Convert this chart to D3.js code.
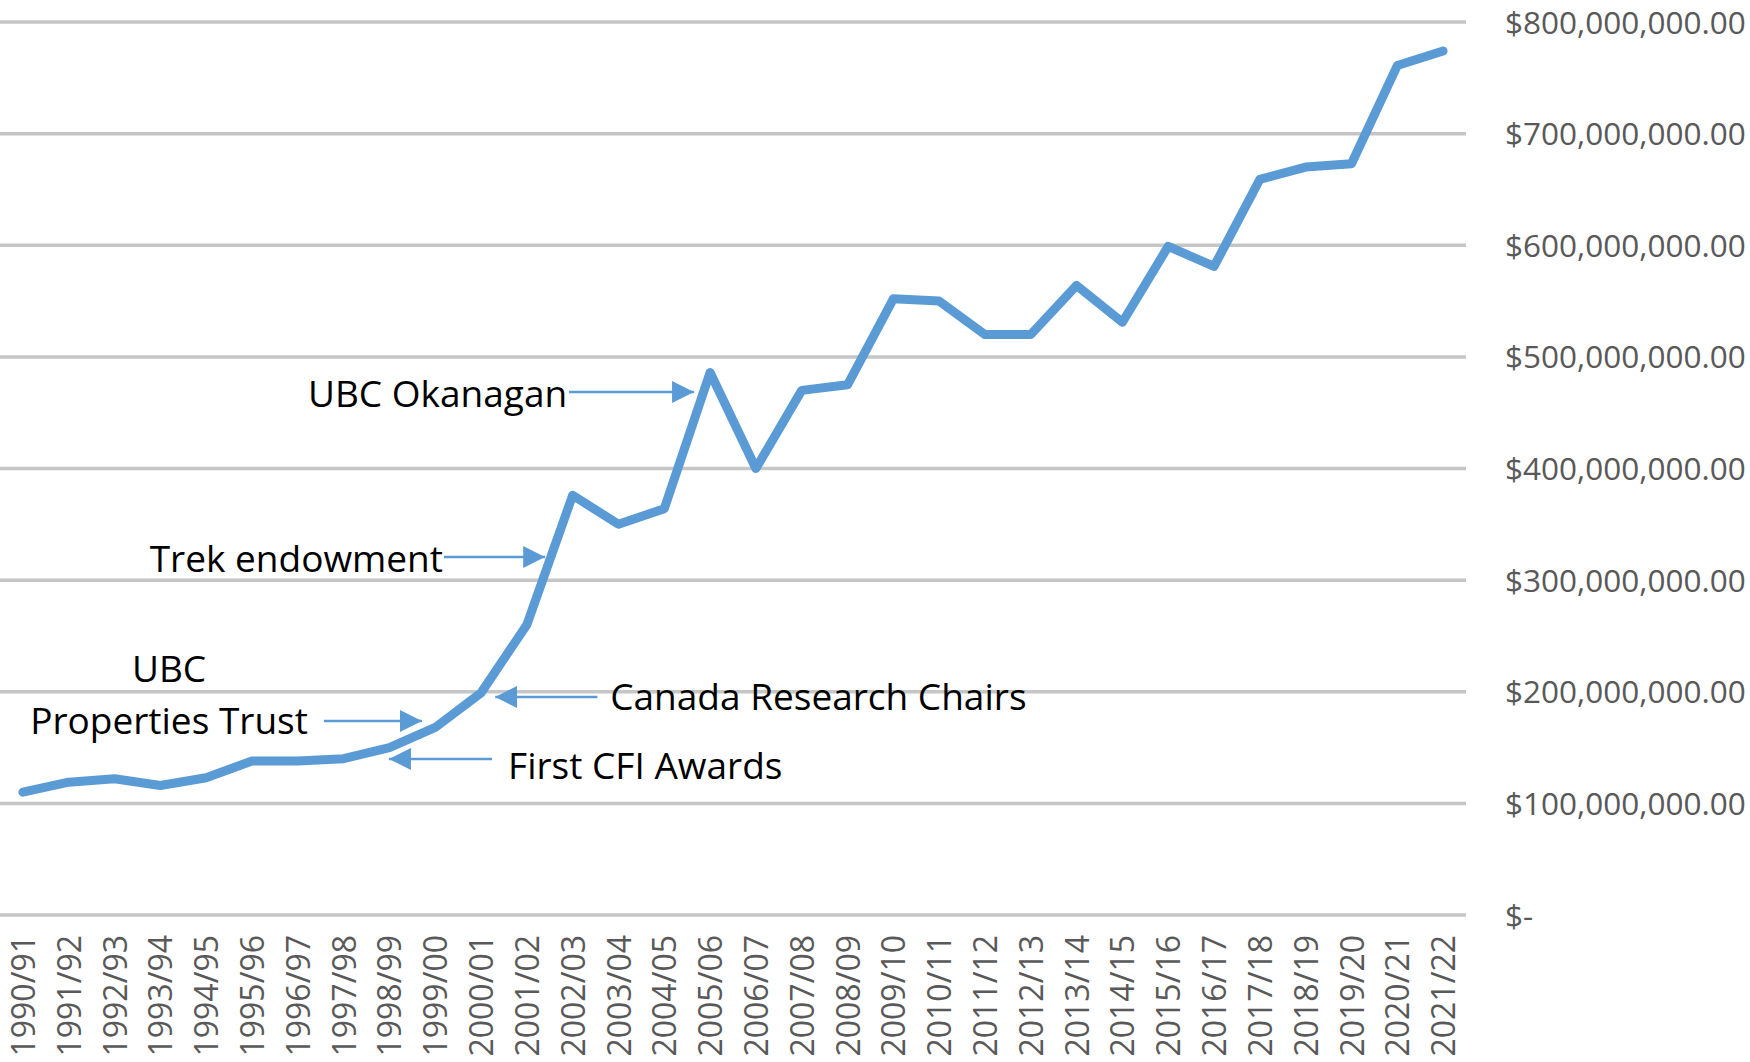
<!DOCTYPE html>
<html>
<head>
<meta charset="utf-8">
<script src="https://cdn.jsdelivr.net/npm/d3@7"></script>
<style>
  html, body { margin: 0; padding: 0; background: #fff; }
  svg { display: block; }
</style>
</head>
<body>
<svg id="chart" width="1750" height="1062"></svg>
<script>
// ---- data ----
const categories = ["1990/91","1991/92","1992/93","1993/94","1994/95","1995/96","1996/97","1997/98","1998/99","1999/00",
  "2000/01","2001/02","2002/03","2003/04","2004/05","2005/06","2006/07","2007/08","2008/09","2009/10",
  "2010/11","2011/12","2012/13","2013/14","2014/15","2015/16","2016/17","2017/18","2018/19","2019/20",
  "2020/21","2021/22"];
const values = [110e6,119e6,122e6,116e6,123e6,138e6,138e6,140e6,150e6,168e6,
  199e6,260e6,376e6,350e6,364e6,486e6,400e6,470e6,475e6,552e6,
  550e6,520e6,520e6,564e6,531e6,599e6,581e6,659e6,670e6,673e6,
  761e6,774e6];
const yTicks = [0,100e6,200e6,300e6,400e6,500e6,600e6,700e6,800e6];

// annotations: arrow tail/tip in category-index / value space, text anchor likewise
const annLabels = ["UBC Okanagan","Trek endowment","Properties Trust","Canada Research Chairs","First CFI Awards"];
const annTip    = [[14.65,468.5e6],[11.40,320.7e6],[8.71,173.8e6],[10.31,195.3e6],[7.99,139.8e6]];
const annTail   = [[11.92,468.5e6],[9.19,320.7e6],[6.57,173.8e6],[12.54,195.3e6],[10.24,139.8e6]];
const annText   = [[11.88,455.1e6,"end"],[9.17,307.3e6,"end"],[3.19,162.1e6,"middle"],[12.82,183.6e6,"start"],[10.59,121.8e6,"start"]];
const extraLabels = [["UBC",3.19,208.7e6,"middle"]];

// ---- layout ----
const plotLeft = 0, plotRight = 1466, plotTop = 22, plotBottom = 915;
const svg = d3.select("#chart");

const x = d3.scalePoint().domain(categories).range([plotLeft, plotRight]).padding(0.5);
const xi = d3.scaleLinear().domain([-0.5, categories.length - 0.5]).range([plotLeft, plotRight]);
const y = d3.scaleLinear().domain([0, 800e6]).range([plotBottom, plotTop]);

// gridlines
svg.append("g").selectAll("line").data(yTicks).join("line")
  .attr("x1", plotLeft).attr("x2", plotRight)
  .attr("y1", d => y(d)).attr("y2", d => y(d))
  .attr("stroke", "#c6c6c6").attr("stroke-width", 3.5);

// y axis labels (right)
const yAxis = d3.axisRight(y).tickValues(yTicks).tickSize(0).tickPadding(0)
  .tickFormat(d => d === 0 ? "$-" : "$" + d3.format(",.2f")(d));
const gy = svg.append("g").attr("transform", `translate(1505,0)`).call(yAxis);
gy.select(".domain").remove();
gy.selectAll("text").attr("font-family", "'Open Sans', sans-serif").attr("font-size", 31.5)
  .attr("fill", "#595959").attr("x", 0).attr("dy", "0.35em");

// x axis labels
const xAxis = d3.axisBottom(x).tickSize(0).tickPadding(0);
const gx = svg.append("g").attr("transform", `translate(0,${plotBottom})`).call(xAxis);
gx.select(".domain").remove();
gx.selectAll("text")
  .attr("font-family", "'Open Sans', sans-serif").attr("font-size", 32)
  .attr("fill", "#595959")
  .attr("transform", "rotate(-90)")
  .attr("text-anchor", "end")
  .attr("x", -20).attr("y", 0).attr("dy", "0.36em");

// line
const line = d3.line().x((d, i) => x(categories[i])).y(d => y(d));
svg.append("path").datum(values)
  .attr("d", line)
  .attr("fill", "none").attr("stroke", "#5b9bd5").attr("stroke-width", 9)
  .attr("stroke-linejoin", "round").attr("stroke-linecap", "round");

// arrows
const defs = svg.append("defs");
defs.append("marker").attr("id", "arrow").attr("markerUnits", "userSpaceOnUse")
  .attr("viewBox", "0 0 22 22").attr("refX", 22).attr("refY", 11)
  .attr("markerWidth", 22).attr("markerHeight", 22).attr("orient", "auto")
  .append("path").attr("d", "M0,0 L22,11 L0,22 Z").attr("fill", "#5b9bd5");

svg.append("g").selectAll("line").data(annLabels).join("line")
  .attr("x1", (d, i) => xi(annTail[i][0])).attr("y1", (d, i) => y(annTail[i][1]))
  .attr("x2", (d, i) => xi(annTip[i][0])).attr("y2", (d, i) => y(annTip[i][1]))
  .attr("stroke", "#5b9bd5").attr("stroke-width", 2.5)
  .attr("marker-end", "url(#arrow)");

svg.append("g").selectAll("text").data(annLabels).join("text")
  .attr("x", (d, i) => xi(annText[i][0])).attr("y", (d, i) => y(annText[i][1]))
  .attr("text-anchor", (d, i) => annText[i][2])
  .attr("font-family", "'Open Sans', sans-serif").attr("font-size", 37).attr("fill", "#000")
  .text(d => d);

svg.append("g").selectAll("text").data(extraLabels).join("text")
  .attr("x", d => xi(d[1])).attr("y", d => y(d[2]))
  .attr("text-anchor", d => d[3])
  .attr("font-family", "'Open Sans', sans-serif").attr("font-size", 37).attr("fill", "#000")
  .text(d => d[0]);
</script>
</body>
</html>
